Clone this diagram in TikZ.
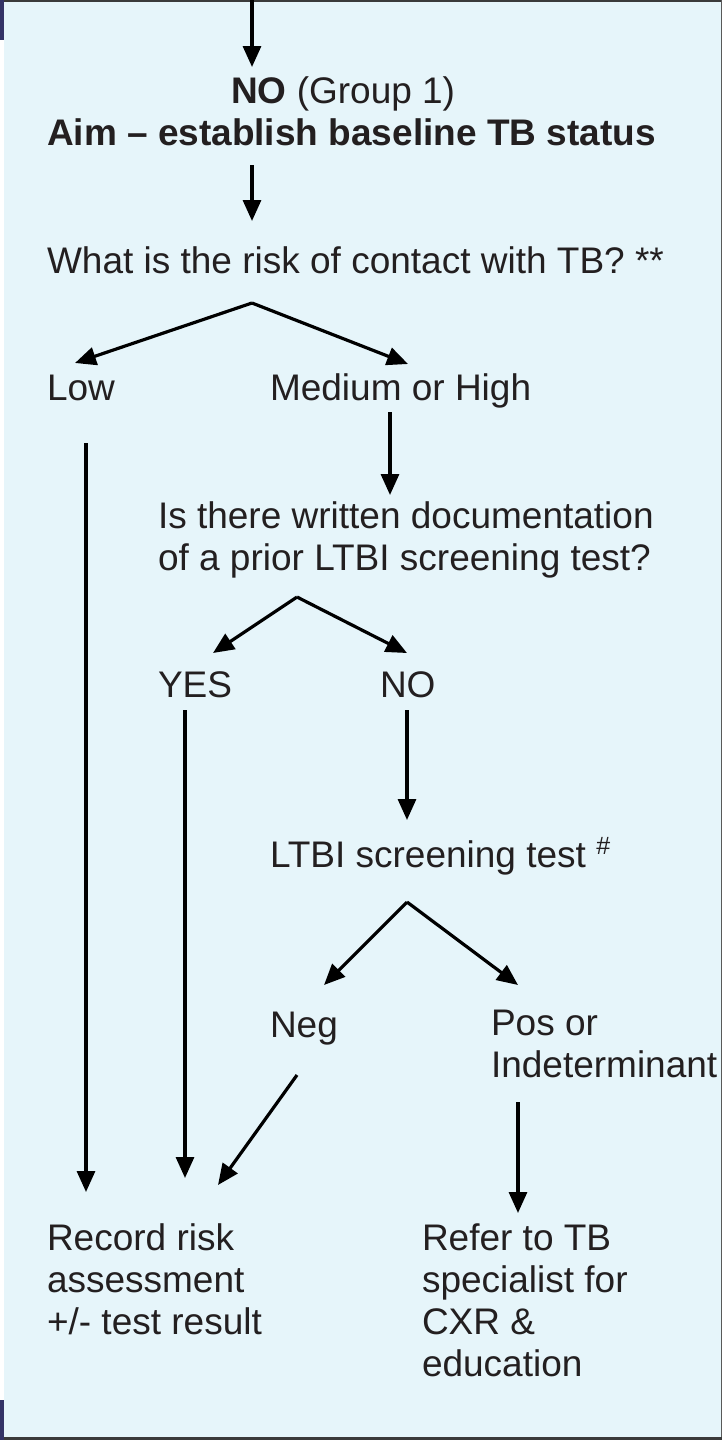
\documentclass[tikz,border=0pt]{standalone}
\usepackage{fontspec}
\setmainfont{Liberation Sans}
\usetikzlibrary{arrows.meta}
\definecolor{panel}{HTML}{E6F5FA}
\definecolor{navy}{HTML}{333366}
\definecolor{ink}{HTML}{231F20}
\definecolor{edge}{HTML}{3A3A3A}
\begin{document}
\begin{tikzpicture}[x=1pt,y=-1pt,
  txt/.style={inner sep=0pt, outer sep=0pt, text=ink, font=\fontsize{37}{42}\selectfont},
  one/.style={txt, anchor=base west},
  multi/.style={txt, anchor=north west, align=left},
  arr/.style={draw=black, line width=3.2pt, -{Triangle[length=21pt,width=18pt]}}]
\useasboundingbox (0,0) rectangle (722,1440);
% frame
\fill[white] (0,0) rectangle (722,1440);
\fill[panel] (4,2) rectangle (720.5,1437);
\fill[edge] (4,0) rectangle (722,2);
\fill[gray!70!black] (720.5,0) rectangle (722,1440);
\fill[edge] (4,1437) rectangle (722,1440);
\fill[navy] (0,0) rectangle (4,40);
\fill[navy] (0,1400) rectangle (4,1440);
% texts
\node[one] (no1) at (231,103) {\textbf{NO} (Group 1)};
\node[one] (aim) at (47,145) {\textbf{Aim – establish baseline TB status}};
\node[one] (risk) at (47,273) {What is the risk of contact with TB? **};
\node[one] (low) at (47,400) {Low};
\node[one] (med) at (270,400) {Medium or High};
\node[multi] (doc) at (158,501.5) {Is there written documentation\\of a prior LTBI screening test?};
\node[one] (yes) at (158,697) {YES};
\node[one] (no2) at (380,697) {NO};
\node[one] (ltbi) at (270,867) {LTBI screening test \raisebox{13pt}{\fontsize{25}{25}\selectfont\#}};
\node[one] (neg) at (270,1037) {Neg};
\node[multi] (pos) at (491,1010.5) {Pos or\\Indeterminant};
\node[multi] (rec) at (47,1223.5) {Record risk\\assessment\\+/- test result};
\node[multi] (ref) at (422,1223.5) {Refer to TB\\specialist for\\CXR \&\\education};
% connector coordinates
\coordinate (in) at (252,0);
\coordinate (noTip) at (252,67);
\coordinate (aimOut) at (252,165);
\coordinate (riskIn) at (252,221);
\coordinate (fork1) at (252,303);
\coordinate (lowIn) at (75,363);
\coordinate (medIn) at (408,364);
\coordinate (lowOut) at (86,443);
\coordinate (recIn1) at (86,1192);
\coordinate (medOut) at (390,412);
\coordinate (docIn) at (390,495);
\coordinate (fork2) at (297,597);
\coordinate (yesIn) at (213,653);
\coordinate (no2In) at (407,653);
\coordinate (yesOut) at (185,710);
\coordinate (recIn2) at (185,1178);
\coordinate (no2Out) at (407,710);
\coordinate (ltbiIn) at (407,820);
\coordinate (fork3) at (407,902);
\coordinate (negIn) at (324,985);
\coordinate (posIn) at (518,985);
\coordinate (negOut) at (297,1075);
\coordinate (recIn3) at (218,1185);
\coordinate (posOut) at (518,1102);
\coordinate (refIn) at (518,1213);
% connectors
\draw[arr] (in) -- (noTip);
\draw[arr] (aimOut) -- (riskIn);
\draw[arr] (fork1) -- (lowIn);
\draw[arr] (fork1) -- (medIn);
\draw[arr] (lowOut) -- (recIn1);
\draw[arr] (medOut) -- (docIn);
\draw[arr] (fork2) -- (yesIn);
\draw[arr] (fork2) -- (no2In);
\draw[arr] (yesOut) -- (recIn2);
\draw[arr] (no2Out) -- (ltbiIn);
\draw[arr] (fork3) -- (negIn);
\draw[arr] (fork3) -- (posIn);
\draw[arr] (negOut) -- (recIn3);
\draw[arr] (posOut) -- (refIn);
\end{tikzpicture}
\end{document}
